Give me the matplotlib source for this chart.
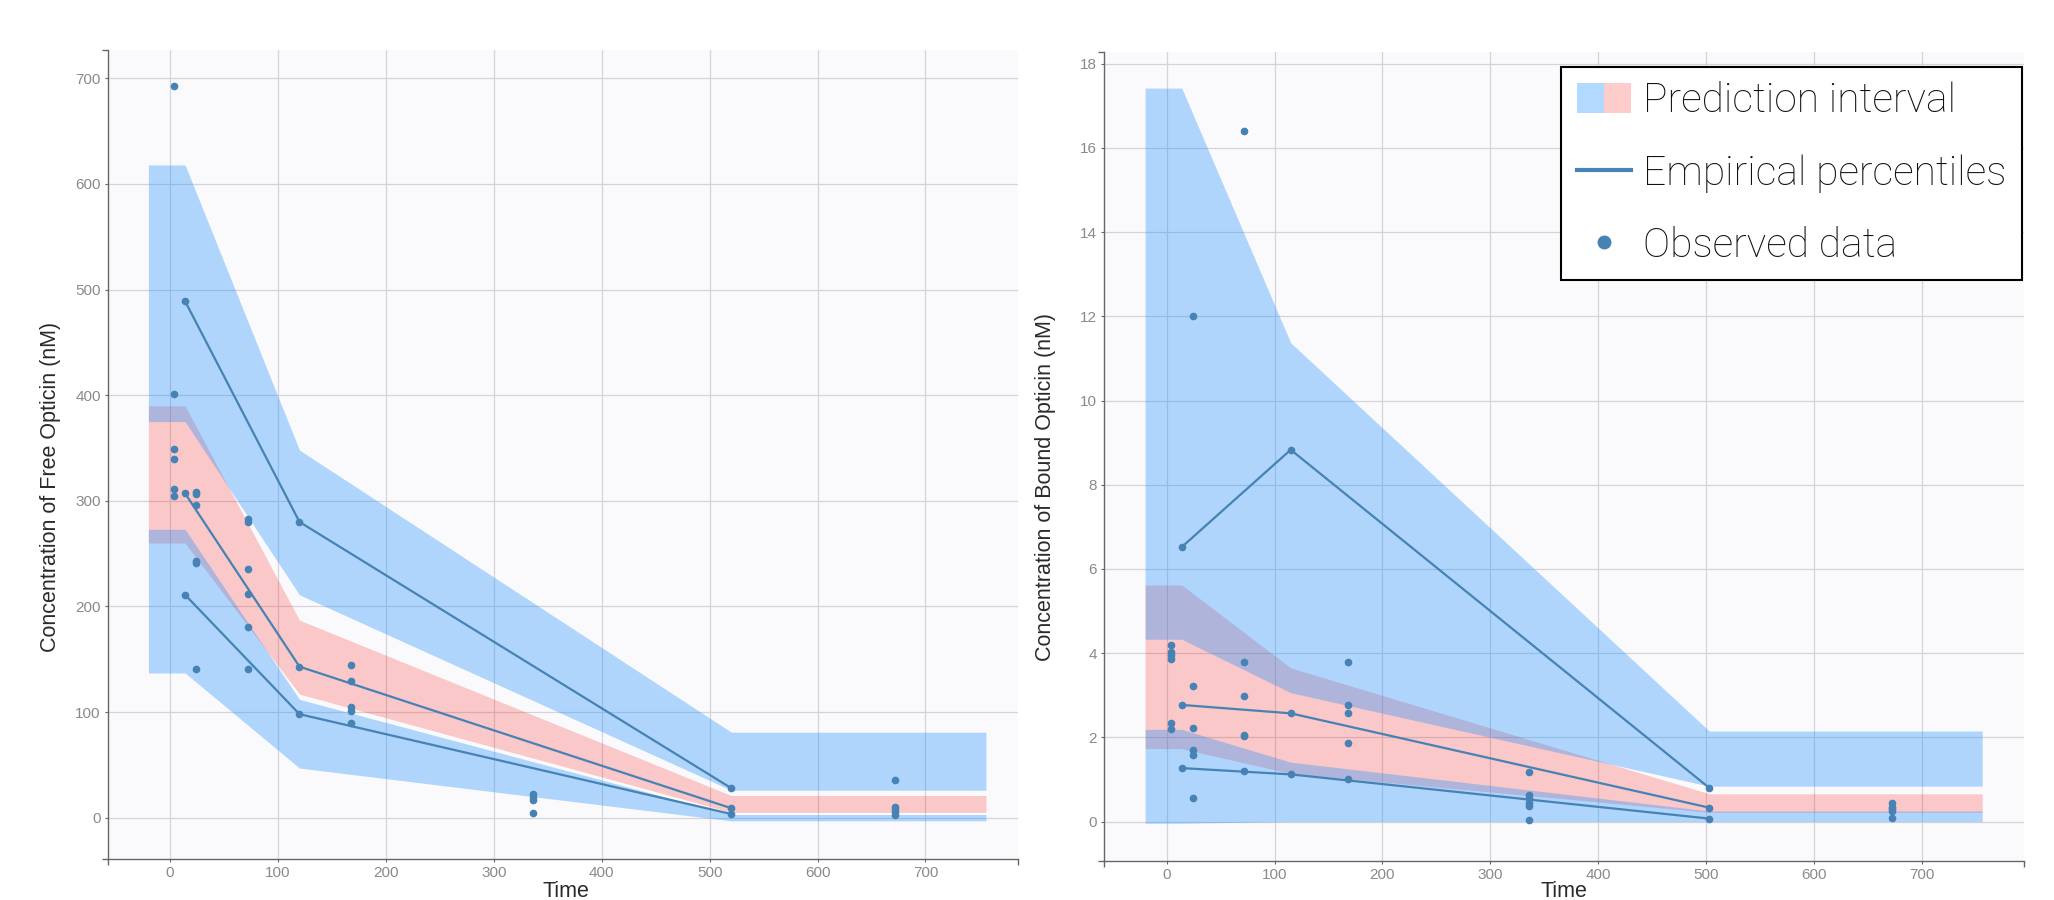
import matplotlib
matplotlib.use("Agg")
from matplotlib import pyplot as plt
from matplotlib.patches import Patch
from matplotlib.lines import Line2D
from matplotlib.legend_handler import HandlerTuple

plt.rcParams['font.family'] = ['Liberation Sans', 'DejaVu Sans']

# ---------------- Free opticin (left panel) ----------------
band_time_free = [-20, 14, 120, 520, 756]
# prediction interval of the upper percentile
upper_hi_free = [618, 618, 348, 81, 81]
upper_lo_free = [375, 375, 211, 26, 26]
# prediction interval of the median
median_hi_free = [390, 390, 187, 21, 21]
median_lo_free = [260, 260, 117, 5, 5]
# prediction interval of the lower percentile
lower_hi_free = [273, 273, 112, 3, 3]
lower_lo_free = [137, 137, 47, -3, -3]

# empirical percentiles
pct_time_free = [14, 120, 520]
pct_hi_free = [489, 280, 28]
pct_med_free = [307, 143, 9]
pct_lo_free = [211, 98, 3.5]

# observed data
obs_time_free = [4, 24, 72, 168, 336, 672]
obs_free = [
    [693, 401, 349, 340, 311, 305],
    [308, 306, 296, 243, 241, 141],
    [283, 280, 235, 212, 181, 141],
    [145, 129, 105, 101, 90],
    [22, 20, 17, 4],
    [36, 10, 8, 5, 3],
]

# ---------------- Bound opticin (right panel) ----------------
band_time_bound = [-20, 14, 115, 503, 756]
upper_hi_bound = [17.42, 17.42, 11.37, 2.15, 2.15]
upper_lo_bound = [4.33, 4.33, 3.06, 0.84, 0.84]
median_hi_bound = [5.62, 5.62, 3.65, 0.66, 0.66]
median_lo_bound = [1.73, 1.73, 1.14, 0.22, 0.22]
lower_hi_bound = [2.19, 2.19, 1.41, 0.25, 0.25]
lower_lo_bound = [-0.04, -0.04, 0.0, 0.0, 0.0]

pct_time_bound = [14, 115, 503]
pct_hi_bound = [6.52, 8.83, 0.8]
pct_med_bound = [2.77, 2.57, 0.33]
pct_lo_bound = [1.27, 1.12, 0.07]

obs_time_bound = [4, 24, 72, 168, 336, 672]
obs_bound = [
    [4.19, 4.03, 3.95, 3.86, 2.34, 2.19],
    [12.0, 3.21, 2.21, 1.69, 1.57, 0.57],
    [16.39, 3.78, 2.99, 2.06, 2.02, 1.21],
    [3.8, 2.77, 2.57, 1.87, 1.0],
    [1.17, 0.63, 0.55, 0.45, 0.37, 0.03],
    [0.45, 0.35, 0.29, 0.25, 0.08],
]

BLUE = '#1E90FF'
RED = '#FF0000'
LINE = '#4682B4'
BLUE_A = 0.34
RED_A = 0.2


def draw_panel(ax, band_t, bands, pct_t, pcts, obs_t, obs, xlim, ylim, yticks):
    ax.set_facecolor('#FAFAFC')
    ax.grid(True, color='#D4D4D8', lw=0.9)
    ax.set_axisbelow(True)

    # median band first, blue bands on top of it (gives the purple overlap)
    ax.fill_between(band_t, bands[2], bands[3], color=RED, alpha=RED_A, lw=0, zorder=1)
    ax.fill_between(band_t, bands[0], bands[1], color=BLUE, alpha=BLUE_A, lw=0, zorder=1)
    ax.fill_between(band_t, bands[4], bands[5], color=BLUE, alpha=BLUE_A, lw=0, zorder=1)

    for p in pcts:
        ax.plot(pct_t, p, color=LINE, lw=1.6, marker='o', markersize=4.5, zorder=3)

    for t, vals in zip(obs_t, obs):
        ax.plot([t] * len(vals), vals, 'o', color=LINE, markersize=4.5, zorder=4)

    ax.set_xlim(*xlim)
    ax.set_ylim(*ylim)
    ax.set_xticks(range(0, 701, 100))
    ax.set_yticks(yticks)
    # outer ticks at the ends of the axes
    ax.set_xticks(list(xlim), minor=True)
    ax.set_yticks(list(ylim), minor=True)

    for side in ['top', 'right']:
        ax.spines[side].set_visible(False)
    for side in ['left', 'bottom']:
        ax.spines[side].set_color('#666666')
        ax.spines[side].set_linewidth(1.0)
    ax.tick_params(which='major', length=2.5, width=0.8, color='#666666',
                   labelcolor='#8A8A8A', labelsize=11, pad=2.5)
    ax.tick_params(which='minor', length=4.5, width=1.0, color='#666666')


# 设置大小和 dpi
fig = plt.figure(figsize=(20.54, 9), dpi=100)
ax1 = fig.add_axes([107.7 / 2054, 1 - 859.3 / 900, 910.6 / 2054, 809.3 / 900])
ax2 = fig.add_axes([1104 / 2054, 1 - 860.7 / 900, 920 / 2054, 808.4 / 900])

draw_panel(ax1, band_time_free,
           [upper_hi_free, upper_lo_free, median_hi_free, median_lo_free, lower_hi_free, lower_lo_free],
           pct_time_free, [pct_hi_free, pct_med_free, pct_lo_free],
           obs_time_free, obs_free, (-57.7, 786), (-39.4, 726.8), range(0, 701, 100))

draw_panel(ax2, band_time_bound,
           [upper_hi_bound, upper_lo_bound, median_hi_bound, median_lo_bound, lower_hi_bound, lower_lo_bound],
           pct_time_bound, [pct_hi_bound, pct_med_bound, pct_lo_bound],
           obs_time_bound, obs_bound, (-58.1, 794.8), (-0.93, 18.27), range(0, 19, 2))

# axis titles
fig.text(51 / 2054, 1 - 487 / 900, 'Concentration of Free Opticin (nM)', rotation=90,
         ha='center', va='center', fontsize=15.5, color='#2A2A2A')
fig.text(1045 / 2054, 1 - 487 / 900, 'Concentration of Bound Opticin (nM)', rotation=90,
         ha='center', va='center', fontsize=15.5, color='#2A2A2A')
fig.text(566 / 2054, 1 - 897 / 900, 'Time', ha='center', va='baseline', fontsize=15.5, color='#2A2A2A')
fig.text(1564 / 2054, 1 - 897 / 900, 'Time', ha='center', va='baseline', fontsize=15.5, color='#2A2A2A')

# legend
handles = [
    (Patch(facecolor=BLUE, alpha=BLUE_A, lw=0), Patch(facecolor=RED, alpha=RED_A, lw=0)),
    Line2D([], [], color=LINE, lw=3),
    Line2D([], [], color=LINE, marker='o', ls='none', markersize=9),
]
labels = ['Prediction interval', 'Empirical percentiles', 'Observed data']
leg = ax2.legend(handles, labels, handler_map={tuple: HandlerTuple(ndivide=None, pad=0)},
                 loc='upper left', bbox_to_anchor=(1561.3 / 2054, 1 - 66.5 / 900),
                 bbox_transform=fig.transFigure, borderaxespad=0, fancybox=False,
                 edgecolor='black', framealpha=1,
                 prop={'family': ['Roboto', 'DejaVu Sans'], 'weight': 'light', 'size': 29.3},
                 handlelength=1.33, handleheight=0.75, handletextpad=0.3,
                 labelspacing=0.83, borderpad=0.38)
leg.get_frame().set_linewidth(1.5)
for txt in leg.get_texts():
    txt.set_color('#111111')

# 保存图片
plt.savefig('out.png', dpi=100)
